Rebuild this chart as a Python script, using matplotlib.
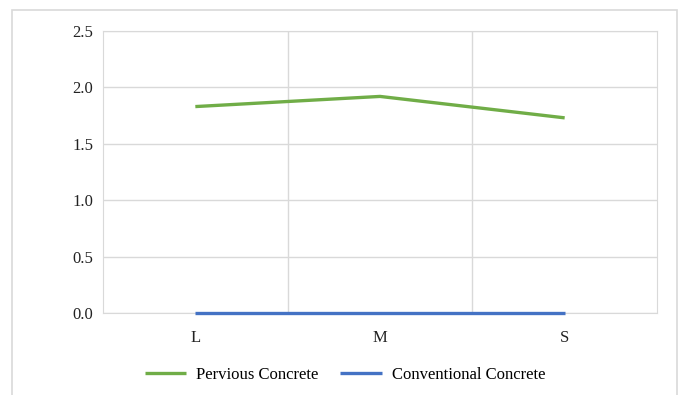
import matplotlib.pyplot as plt
from matplotlib.patches import Rectangle

categories = ['L', 'M', 'S']
pervious = [1.83, 1.92, 1.73]
conventional = [0.0, 0.0, 0.0]
yticks = [0.0, 0.5, 1.0, 1.5, 2.0, 2.5]

plt.rcParams['font.family'] = 'Liberation Serif'

fig = plt.figure(figsize=(6.81, 3.95), dpi=100)
ax = fig.add_axes([103 / 681, 1 - 313 / 395, 554 / 681, 282 / 395])

# light frame around the whole chart
fig.patches.append(Rectangle((12 / 681, -0.02), 665 / 681, 1 - 10 / 395 + 0.02,
                             transform=fig.transFigure, fill=False,
                             edgecolor='#d9d9d9', linewidth=1.2))

x = range(len(categories))
ax.plot(x, pervious, color='#70ad47', linewidth=2.4, label='Pervious Concrete',
        solid_capstyle='butt', zorder=5)
ax.plot(x, conventional, color='#4472c4', linewidth=2.4, label='Conventional Concrete',
        solid_capstyle='butt', clip_on=False, zorder=5)

ax.set_xlim(-0.5, 2.5)
ax.set_ylim(0, 2.5)
ax.set_xticks(list(x))
ax.set_xticklabels(categories)
ax.set_yticks(yticks)
ax.set_yticklabels([f'{v:.1f}' for v in yticks])
ax.set_xticks([0.5, 1.5], minor=True)

ax.grid(True, axis='y', color='#d9d9d9', linewidth=1)
ax.grid(True, axis='x', which='minor', color='#d9d9d9', linewidth=1)
ax.set_axisbelow(True)
ax.tick_params(which='both', length=0, labelsize=12, colors='#222222')
ax.tick_params(axis='x', pad=12)
ax.tick_params(axis='y', pad=7)
for s in ax.spines.values():
    s.set_color('#d9d9d9')
    s.set_zorder(1)

fig.legend(loc='center', bbox_to_anchor=(345 / 681, 1 - 375 / 395), ncol=2,
           frameon=False, fontsize=12, handlelength=2.5, columnspacing=1.3,
           handletextpad=0.6, borderpad=0)

fig.savefig('out.png', dpi=100)
